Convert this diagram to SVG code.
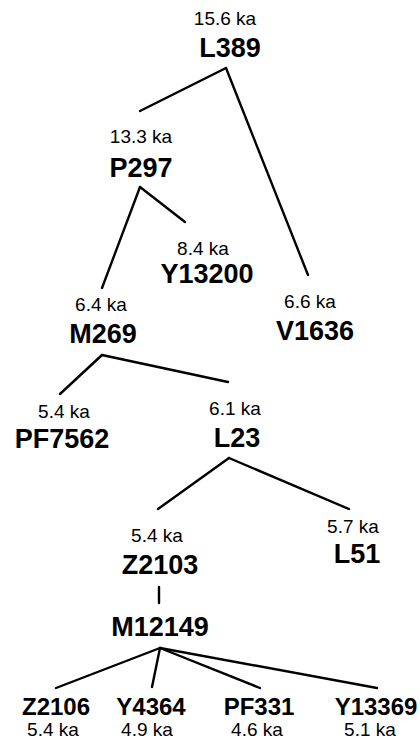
<svg xmlns="http://www.w3.org/2000/svg" width="420" height="744" viewBox="0 0 420 744">
<style>
text{font-family:"Liberation Sans",Arial,sans-serif;fill:#000;text-anchor:middle}
.ka{font-size:19px}
.nm{font-size:27px;font-weight:bold}
.lf{font-size:24px;font-weight:bold}
#connectors line{stroke:#000;stroke-width:2.4;stroke-linecap:round}
</style>
<rect width="420" height="744" fill="#fff"/>
<g id="connectors">
<line x1="226" y1="68" x2="140" y2="111"/>
<line x1="226" y1="68" x2="308" y2="275"/>
<line x1="140" y1="187" x2="102" y2="288"/>
<line x1="140" y1="187" x2="185" y2="222"/>
<line x1="102" y1="355" x2="60" y2="394"/>
<line x1="102" y1="355" x2="228" y2="382"/>
<line x1="229" y1="458" x2="158" y2="509"/>
<line x1="229" y1="458" x2="349" y2="509"/>
<line x1="159" y1="587" x2="159" y2="603"/>
<line x1="160" y1="648" x2="56" y2="688"/>
<line x1="160" y1="648" x2="152" y2="687"/>
<line x1="160" y1="648" x2="260" y2="688"/>
<line x1="160" y1="648" x2="377" y2="688"/>
</g>
<g id="L389"><text class="ka" x="225" y="25">15.6 ka</text><text class="nm" x="230" y="57">L389</text></g>
<g id="P297"><text class="ka" x="141" y="143">13.3 ka</text><text class="nm" x="141" y="177">P297</text></g>
<g id="Y13200"><text class="ka" x="203" y="255">8.4 ka</text><text class="nm" x="207" y="283">Y13200</text></g>
<g id="V1636"><text class="ka" x="310" y="308">6.6 ka</text><text class="nm" x="315" y="340">V1636</text></g>
<g id="M269"><text class="ka" x="101" y="311">6.4 ka</text><text class="nm" x="103" y="343">M269</text></g>
<g id="PF7562"><text class="ka" x="64" y="418">5.4 ka</text><text class="nm" x="62" y="448">PF7562</text></g>
<g id="L23"><text class="ka" x="235" y="415">6.1 ka</text><text class="nm" x="237" y="447">L23</text></g>
<g id="Z2103"><text class="ka" x="157" y="542">5.4 ka</text><text class="nm" x="160" y="574">Z2103</text></g>
<g id="L51"><text class="ka" x="353" y="533">5.7 ka</text><text class="nm" x="357" y="563">L51</text></g>
<g id="M12149"><text class="nm" x="160" y="636">M12149</text></g>
<g id="Z2106"><text class="lf" x="56" y="715">Z2106</text><text class="ka" x="53" y="736">5.4 ka</text></g>
<g id="Y4364"><text class="lf" x="151" y="715">Y4364</text><text class="ka" x="147" y="736">4.9 ka</text></g>
<g id="PF331"><text class="lf" x="259" y="715">PF331</text><text class="ka" x="257" y="736">4.6 ka</text></g>
<g id="Y13369"><text class="lf" x="376" y="715">Y13369</text><text class="ka" x="370" y="736">5.1 ka</text></g>
</svg>
